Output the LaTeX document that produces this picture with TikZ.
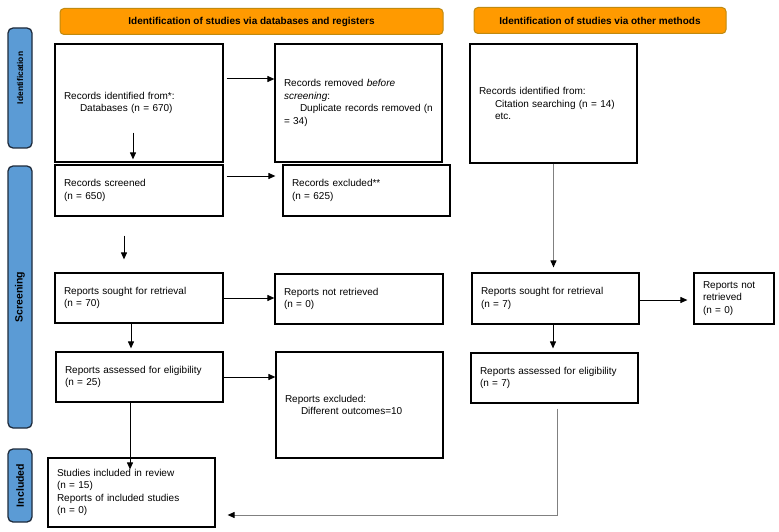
\documentclass[tikz,border=0pt]{standalone}
\usepackage{fontspec}
\setmainfont{Liberation Sans}
\usetikzlibrary{arrows.meta}
\definecolor{hdrorange}{HTML}{FF9A00}
\definecolor{hdredge}{HTML}{C08A10}
\definecolor{sideblue}{HTML}{5B9BD5}
\definecolor{sideedge}{HTML}{1E2B3C}
\begin{document}
\begin{tikzpicture}[x=1pt,y=-1pt,font=\fontsize{10}{12.5}\selectfont,
		box/.style={draw,line width=1.2pt,align=left,inner xsep=9pt,inner ysep=0pt,minimum height=#1},
		hdr/.style={draw=hdredge,fill=hdrorange,line width=1pt,rounded corners=4pt,minimum height=26pt,font=\bfseries\fontsize{10}{12}\selectfont},
		side/.style={draw=sideedge,fill=sideblue,line width=1.3pt,rounded corners=5pt,rotate=90,minimum width=#1,minimum height=24pt,font=\bfseries\fontsize{10.5}{12}\selectfont},
		arr/.style={-{Triangle[length=7pt,width=6pt]},line width=1pt},
		garr/.style={-{Triangle[length=7pt,width=6pt,color=black]},line width=1pt,draw=gray}]
	\useasboundingbox (0,0) rectangle (779,532);
	\node[hdr,minimum width=383pt] (hdrDb) at (251.5,21.5) {Identification of studies via databases and registers};
	\node[hdr,minimum width=252pt] (hdrOth) at (600,20.5) {Identification of studies via other methods};
	\node[side=120pt] (sideId) at (20,88) {\fontsize{8.4}{10}\selectfont\hspace*{20pt}Identification};
	\node[side=262pt] (sideScr) at (20,297) {Screening};
	\node[side=73pt] (sideInc) at (20,485.5) {Included};
	
	\node[box=118pt,text width=150pt] (idDb) at (139,103) {Records identified from*:\\\hspace*{16pt}Databases (n = 670)};
	\node[box=118pt,text width=149pt] (removed) at (358.5,103) {Records removed \textit{before}\\\textit{screening}:\\\hspace*{16pt}Duplicate records removed (n\\= 34)};
	\node[box=119pt,text width=149pt] (idOth) at (553.5,103.5) {Records identified from:\\\hspace*{16pt}Citation searching (n = 14)\\\hspace*{16pt}etc.};
	\node[box=51pt,text width=150pt] (screened) at (139,190.5) {Records screened\\(n = 650)};
	\node[box=51pt,text width=149pt] (excluded) at (366.5,190.5) {Records excluded**\\(n = 625)};
	\node[box=50pt,text width=150pt] (sought) at (139,298) {Reports sought for retrieval\\(n = 70)};
	\node[box=50pt,text width=150pt] (notRetr) at (359,299) {Reports not retrieved\\(n = 0)};
	\node[box=51pt,text width=149pt] (soughtOth) at (555.5,298.5) {Reports sought for retrieval\\(n = 7)};
	\node[box=51pt,text width=62pt] (notRetrOth) at (734,298.5) {Reports not\\retrieved\\(n = 0)};
	\node[box=50pt,text width=149pt] (assessed) at (139.5,377) {Reports assessed for eligibility\\(n = 25)};
	\node[box=106pt,text width=149pt] (repExcl) at (359.5,405) {Reports excluded:\\\hspace*{16pt}Different outcomes=10};
	\node[box=50pt,text width=149pt] (assessedOth) at (554.5,378) {Reports assessed for eligibility\\(n = 7)};
	\node[box=69pt,text width=149pt] (included) at (131.5,492.5) {Studies included in review\\(n = 15)\\Reports of included studies\\(n = 0)};
	
	\draw[arr,shorten <=3pt] ([yshift=24pt]idDb.east) -- ([yshift=24pt]removed.west);
	\draw[arr,shorten >=5pt] ([xshift=-6pt,yshift=30pt]idDb.south) -- ([xshift=-6pt]screened.north);
	\draw[arr,shorten <=3pt,shorten >=7pt] ([yshift=14.5pt]screened.east) -- ([yshift=14.5pt]excluded.west);
	\draw[arr,shorten <=19pt,shorten >=13pt] ([xshift=-15pt]screened.south) -- ([xshift=-15pt]sought.north);
	\draw[arr] (sought.east) -- (sought.east -| notRetr.west);
	\draw[arr,shorten >=3pt] ([xshift=-8pt]sought.south) -- ([xshift=-8pt]sought.south |- assessed.north);
	\draw[arr] (assessed.east) -- (assessed.east -| repExcl.west);
	\draw[arr,shorten >=-12pt] ([xshift=-9.5pt]assessed.south) -- ([xshift=-9.5pt]assessed.south |- included.north);
	
	\draw[garr,shorten >=5pt] (idOth.south) -- (idOth.south |- soughtOth.north);
	\draw[arr,shorten >=6pt] ([yshift=-1.5pt]soughtOth.east) -- ([yshift=-1.5pt]soughtOth.east -| notRetrOth.west);
	\draw[arr,shorten >=4pt] ([xshift=-2.5pt]soughtOth.south) -- ([xshift=-2.5pt]soughtOth.south |- assessedOth.north);
	\draw[garr,shorten <=5pt,shorten >=12pt] ([xshift=2.5pt]assessedOth.south) |- ([yshift=-22.5pt]included.east);
\end{tikzpicture}
\end{document}
